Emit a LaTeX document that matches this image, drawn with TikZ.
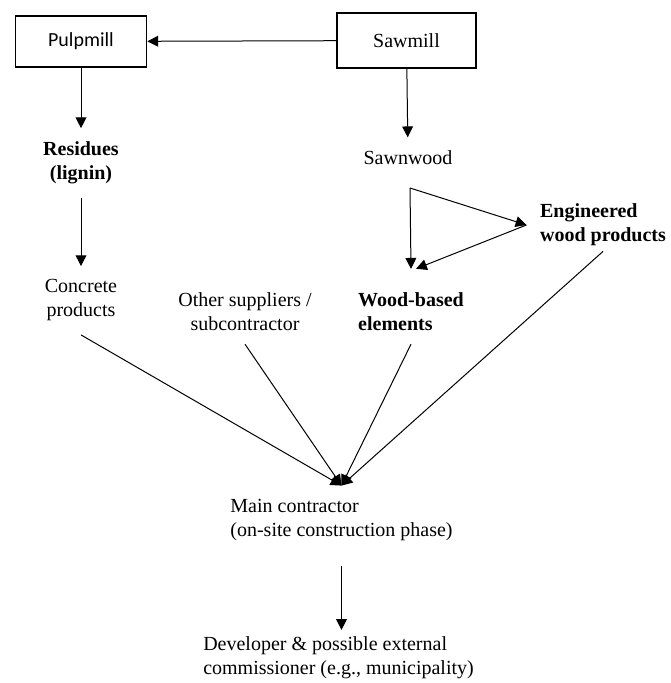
\documentclass[tikz,border=0pt]{standalone}
\usepackage{fontspec}
\setmainfont{Liberation Serif}
\newfontfamily\millfont{Carlito}
\usetikzlibrary{arrows.meta}

\begin{document}
\begin{tikzpicture}[x=0.6pt, y=-0.6pt,
    font=\fontsize{12}{14.4}\selectfont,
    mill/.style={draw, line width=1pt, inner sep=0pt, font=\fontsize{12}{14.4}\selectfont},
    lbl/.style={align=center, inner sep=8pt},
    heavy/.style={lbl, font=\fontsize{12}{14.4}\selectfont\bfseries},
    arr/.style={-{Triangle[length=6.5pt,width=6.5pt]}, line width=0.6pt}]
    \useasboundingbox (0,0) rectangle (670,683);

    % Draw mills
    \node[mill, minimum width=78.6pt, minimum height=30.6pt, font=\fontsize{12}{14.4}\millfont] (pulp) at (81,41.5) {Pulpmill};
    \node[mill, minimum width=83.4pt, minimum height=33pt] (saw) at (406.5,40.5) {Sawmill};

    % Draw products
    \node[heavy] (res) at (81,163) {Residues\\(lignin)};
    \node[lbl] (conc) at (81,300.5) {Concrete\\products};
    \node[lbl] (sawn) at (408,158) {Sawnwood};
    \coordinate (split) at (410,188);
    \node[heavy, align=left] (ewp) at (603,225) {Engineered\\wood products};
    \node[heavy, align=left] (wbe) at (411,311.5) {Wood-based\\elements};
    \node[lbl] (other) at (245,311.5) {Other suppliers /\\subcontractor};

    % Draw contractor and client
    \node[lbl, align=left] (main) at (341.5,520) {Main contractor\\(on-site construction phase)};
    \node[lbl, align=left] (dev) at (338.5,658) {Developer \& possible external\\commissioner (e.g., municipality)};

    % Draw flows
    \draw[arr] (saw) -- (pulp);
    \draw[arr] (pulp) -- (res);
    \draw[arr] (res) -- (conc);
    \draw[arr] (saw) -- (sawn);
    \draw[arr] (split) -- ([yshift=6pt]wbe.north);
    \draw[arr] (split) -- (ewp.west);
    \draw[arr] (ewp.west) -- ([xshift=3pt,yshift=6pt]wbe.north);

    \draw[arr] (conc.south) -- (main.north);
    \draw[arr] (other.south) -- (main.north);
    \draw[arr] (wbe.south) -- (main.north);
    \draw[arr] ([yshift=5pt]ewp.south) -- (main.north);

    \draw[arr, shorten <=7pt, shorten >=-4pt] (main.south) -- (main.south |- dev.north);
\end{tikzpicture}
\end{document}
